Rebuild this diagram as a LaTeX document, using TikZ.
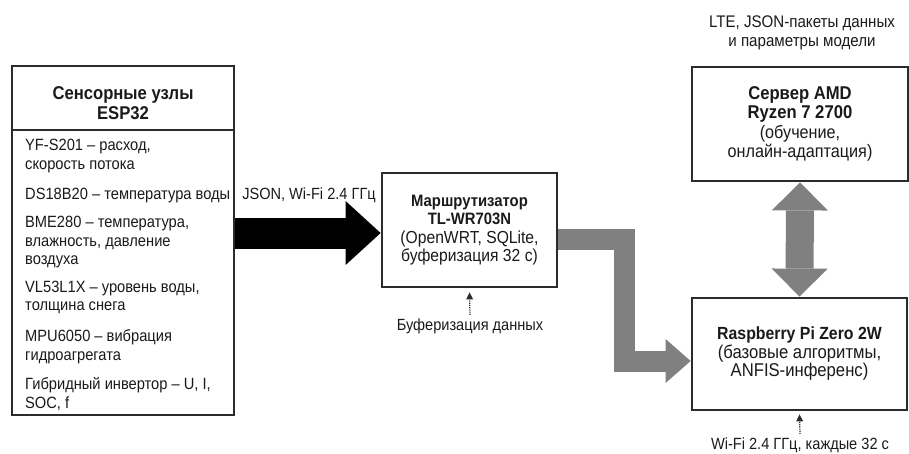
\documentclass[tikz,border=0pt]{standalone}
\usepackage{fontspec}
\setmainfont{Liberation Sans}[FakeStretch=0.9]
\usetikzlibrary{arrows.meta,positioning,calc,backgrounds}

\definecolor{frame}{HTML}{2B2B2B}
\definecolor{arrowgray}{HTML}{808080}
\definecolor{ink}{HTML}{1A1A1A}

\newcommand{\boldln}[2]{{\fontsize{#1}{18}\selectfont\bfseries #2}}

\tikzset{
  box/.style={draw=frame, line width=2.8pt, fill=white, inner sep=0pt},
  txt/.style={text=ink, font=\fontsize{18}{19}\selectfont, align=center},
  head/.style={txt, font=\fontsize{18.5}{20}\selectfont\bfseries},
  item/.style={txt, font=\fontsize{16.3}{18.5}\selectfont, align=left, anchor=west, inner sep=0pt},
  note/.style={txt, font=\fontsize{16.2}{19}\selectfont},
  bigarrow/.style={line width=31pt, black, -{Triangle[length=35pt,width=64pt,line width=0pt]}},
  grayarrow/.style={line width=21pt, arrowgray, -{Triangle[length=25pt,width=44pt,line width=0pt]}},
  duplex/.style={line width=28pt, arrowgray, {Triangle[length=28pt,width=56pt,line width=0pt]}-{Triangle[length=28pt,width=56pt,line width=0pt]}},
  hint/.style={densely dotted, line width=1.2pt, frame, -{Triangle[length=7pt,width=7pt,line width=0pt]}},
}

\begin{document}
\begin{tikzpicture}[x=1pt,y=-1pt]
\useasboundingbox (0,0) rectangle (909,453);

% boxes
\node[box, minimum width=222pt, minimum height=349pt] (esp) at (123,240.5) {};
\draw[frame, line width=2pt] (esp.west |- 0,130) -- (esp.east |- 0,130);
\node[head] (esphead) at (123,103) {Сенсорные узлы\\ESP32};

\node[item] (yf)  at (25,156)   {YF-S201 – расход,\\скорость потока};
\node[item] (ds)  at (25,195)   {DS18B20 – температура воды};
\node[item] (bme) at (25,242)   {BME280 – температура,\\влажность, давление\\воздуха};
\node[item] (vl)  at (25,297.5) {VL53L1X – уровень воды,\\толщина снега};
\node[item] (mpu) at (25,346.5) {MPU6050 – вибрация\\гидроагрегата};
\node[item] (inv) at (25,394)   {Гибридный инвертор – U, I,\\SOC, f};

\node[box, txt, font=\fontsize{17.4}{18.3}\selectfont, minimum width=175pt, minimum height=114pt] (router) at (469.5,230)
  {\boldln{16.5}{Маршрутизатор}\\\boldln{16.5}{TL-WR703N}\\(OpenWRT, SQLite,\\буферизация 32 с)};

\node[box, txt, font=\fontsize{18}{19.3}\selectfont, minimum width=216pt, minimum height=114pt] (server) at (800,124)
  {\boldln{18.5}{Сервер AMD}\\\boldln{18.5}{Ryzen 7 2700}\\(обучение,\\онлайн-адаптация)};

\node[box, txt, font=\fontsize{18.5}{18.5}\selectfont, minimum width=215pt, minimum height=112pt] (rpi) at (799.5,354)
  {\boldln{17.6}{Raspberry Pi Zero 2W}\\(базовые алгоритмы,\\ANFIS-инференс)};

% notes
\node[note] (jsonnote) at (309,195) {JSON, Wi-Fi 2.4 ГГц};
\node[note, font=\fontsize{16.8}{19}\selectfont] (ltenote) at (802,32.5) {LTE, JSON-пакеты данных\\и параметры модели};
\node[note] (bufnote) at (470,326) {Буферизация данных};
\node[note] (wifinote) at (800,445) {Wi-Fi 2.4 ГГц, каждые 32 с};

\draw[hint] (bufnote.north) -- ([yshift=-4pt]router.south);
\draw[hint] (wifinote.north) -- ([yshift=-3pt]rpi.south);

% big arrows
\coordinate (jsonin) at ([yshift=-3pt]router.west);
\coordinate (routerout) at ([yshift=-9pt]router.east);
\coordinate (rpiin) at ([yshift=-7pt]rpi.west);
\begin{scope}[on background layer]
\draw[bigarrow] (esp.east |- jsonin) -- (jsonin);
\draw[grayarrow] (routerout) -| ($(routerout)!0.5!(rpiin)$) |- (rpiin);
\draw[duplex] (server.south) -- (rpi.north);
\end{scope}
\end{tikzpicture}
\end{document}
